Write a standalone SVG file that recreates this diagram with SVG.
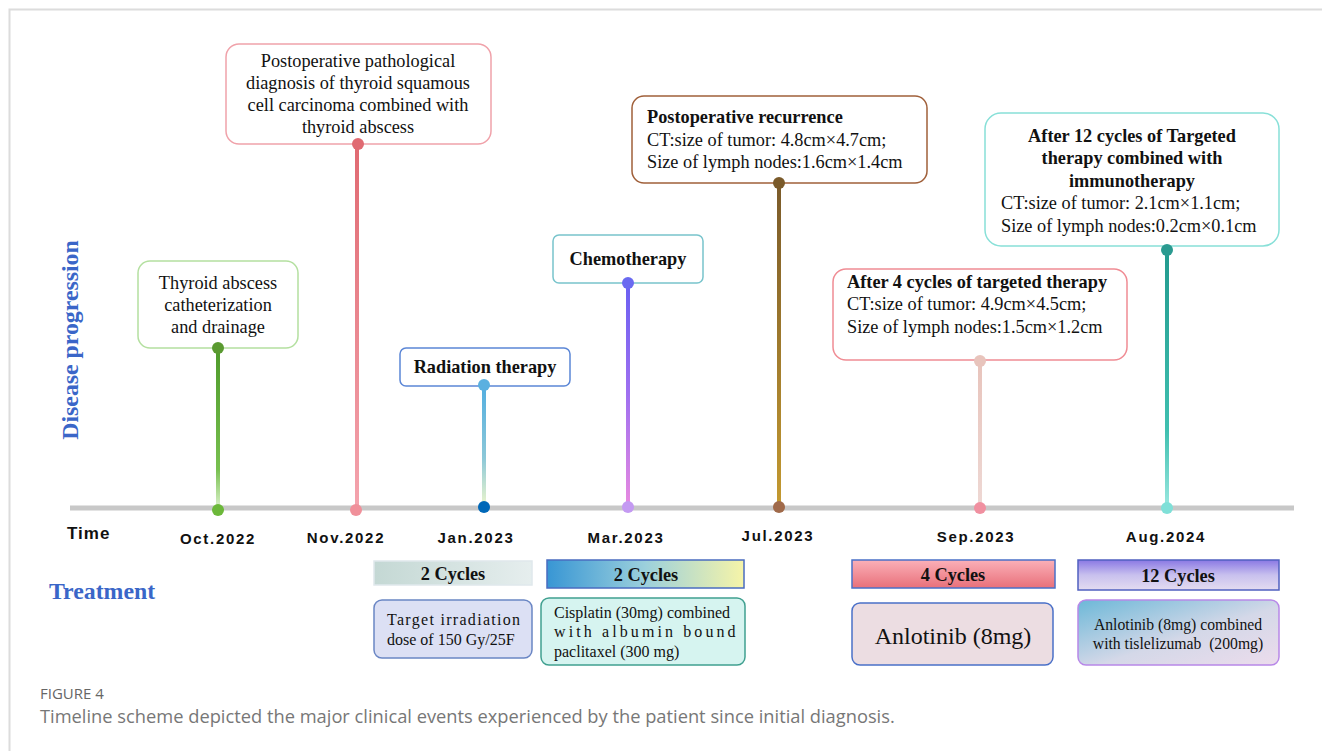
<svg xmlns="http://www.w3.org/2000/svg" width="1322" height="751" viewBox="0 0 1322 751">
<defs>
<style>
.sr{font-family:"Liberation Serif","Times New Roman",serif;fill:#111;}
.b{font-weight:bold;}
.ev{font-size:18.3px;}
.dt{font-family:"Liberation Sans",Arial,sans-serif;font-weight:bold;font-size:15px;letter-spacing:1.7px;fill:#111;text-anchor:middle;}
.ttl{font-family:"Liberation Serif","Times New Roman",serif;font-weight:bold;font-size:23.8px;fill:#3a66c8;}
.box{fill:#fff;stroke-width:1.5;}
.bar{stroke-width:1.5;}
.cy{font-size:18.3px;}
</style>
<linearGradient id="g1" x1="0" y1="0" x2="0" y2="1"><stop offset="0" stop-color="#4e9a2a"/><stop offset="0.75" stop-color="#78c050"/><stop offset="1" stop-color="#e0f4d0"/></linearGradient>
<linearGradient id="g2" x1="0" y1="0" x2="0" y2="1"><stop offset="0" stop-color="#e06a72"/><stop offset="1" stop-color="#f4a4ae"/></linearGradient>
<linearGradient id="g3" x1="0" y1="0" x2="0" y2="1"><stop offset="0" stop-color="#52aee0"/><stop offset="0.6" stop-color="#8cc8d8"/><stop offset="1" stop-color="#eef6cc"/></linearGradient>
<linearGradient id="g4" x1="0" y1="0" x2="0" y2="1"><stop offset="0" stop-color="#6a60f2"/><stop offset="0.5" stop-color="#a070f0"/><stop offset="1" stop-color="#e88ae0"/></linearGradient>
<linearGradient id="g5" x1="0" y1="0" x2="0" y2="1"><stop offset="0" stop-color="#7a5a2a"/><stop offset="1" stop-color="#c49a30"/></linearGradient>
<linearGradient id="g6" x1="0" y1="0" x2="0" y2="1"><stop offset="0" stop-color="#e8c4bc"/><stop offset="1" stop-color="#eed8d4"/></linearGradient>
<linearGradient id="g7" x1="0" y1="0" x2="0" y2="1"><stop offset="0" stop-color="#229a8e"/><stop offset="0.7" stop-color="#40c0b0"/><stop offset="1" stop-color="#9ae8e0"/></linearGradient>
<linearGradient id="b1" x1="0" y1="0" x2="1" y2="0"><stop offset="0" stop-color="#c4d8d4"/><stop offset="1" stop-color="#e6eeee"/></linearGradient>
<linearGradient id="b2" x1="0" y1="0" x2="1" y2="0"><stop offset="0" stop-color="#3896d4"/><stop offset="0.5" stop-color="#9cd0dc"/><stop offset="1" stop-color="#f6f4a8"/></linearGradient>
<linearGradient id="b3" x1="0" y1="0" x2="0" y2="1"><stop offset="0" stop-color="#fbb0b8"/><stop offset="1" stop-color="#e8707a"/></linearGradient>
<linearGradient id="b4" x1="0" y1="0" x2="0" y2="1"><stop offset="0" stop-color="#8a78e4"/><stop offset="0.5" stop-color="#c8c0ee"/><stop offset="1" stop-color="#e4dcf0"/></linearGradient>
<linearGradient id="t4" x1="0" y1="0" x2="1" y2="1"><stop offset="0" stop-color="#6cb8d8"/><stop offset="0.55" stop-color="#d4d8e8"/><stop offset="1" stop-color="#ecdcec"/></linearGradient>
</defs>
<rect width="1322" height="751" fill="#fff"/>
<path d="M9.5 751 V9.5 H1322" fill="none" stroke="#dcdcdc" stroke-width="2"/>

<text class="ttl" transform="translate(78,340) rotate(-90)" text-anchor="middle">Disease progression</text>
<text class="ttl" x="49" y="599">Treatment</text>

<g id="ev-oct2022">
<rect class="box" x="138" y="261" width="160" height="87" rx="12" stroke="#b4e0a0"/>
<text class="sr ev" text-anchor="middle"><tspan x="218" y="289">Thyroid abscess</tspan><tspan x="218" y="311">catheterization</tspan><tspan x="218" y="333">and drainage</tspan></text>
</g>
<g id="ev-nov2022">
<rect class="box" x="226" y="44" width="265" height="100" rx="13" stroke="#f0a2aa"/>
<text class="sr ev" text-anchor="middle"><tspan x="358" y="67">Postoperative pathological</tspan><tspan x="358" y="89">diagnosis of thyroid squamous</tspan><tspan x="358" y="111">cell carcinoma combined with</tspan><tspan x="358" y="133">thyroid abscess</tspan></text>
</g>
<g id="ev-jan2023">
<rect class="box" x="400" y="348" width="170" height="38" rx="6" stroke="#5b86d6"/>
<text class="sr ev b" x="485" y="373" text-anchor="middle">Radiation therapy</text>
</g>
<g id="ev-mar2023">
<rect class="box" x="553" y="235" width="150" height="48" rx="6" stroke="#78c4cc"/>
<text class="sr ev b" x="628" y="265" text-anchor="middle">Chemotherapy</text>
</g>
<g id="ev-jul2023">
<rect class="box" x="632" y="96" width="295" height="87" rx="12" stroke="#a0603a"/>
<text class="sr ev"><tspan class="b" x="647" y="123">Postoperative recurrence</tspan><tspan x="647" y="146">CT:size of tumor: 4.8cm×4.7cm;</tspan><tspan x="647" y="168">Size of lymph nodes:1.6cm×1.4cm</tspan></text>
</g>
<g id="ev-sep2023">
<rect class="box" x="833" y="269" width="294" height="91" rx="13" stroke="#f08c94"/>
<text class="sr ev"><tspan class="b" x="847" y="288">After 4 cycles of targeted therapy</tspan><tspan x="847" y="310">CT:size of tumor: 4.9cm×4.5cm;</tspan><tspan x="847" y="333">Size of lymph nodes:1.5cm×1.2cm</tspan></text>
</g>
<g id="ev-aug2024">
<rect class="box" x="985" y="113" width="294" height="133" rx="16" stroke="#88e0d8"/>
<text class="sr ev b" text-anchor="middle"><tspan x="1132" y="142">After 12 cycles of Targeted</tspan><tspan x="1132" y="164">therapy combined with</tspan><tspan x="1132" y="187">immunotherapy</tspan></text>
<text class="sr ev"><tspan x="1001" y="209">CT:size of tumor: 2.1cm×1.1cm;</tspan><tspan x="1001" y="232">Size of lymph nodes:0.2cm×0.1cm</tspan></text>
</g>

<g id="connectors">
<line x1="70" y1="508" x2="1294" y2="508" stroke="#c8c8c8" stroke-width="5"/>
<rect x="216" y="348" width="4" height="162" fill="url(#g1)"/>
<rect x="355" y="144" width="4" height="366" fill="url(#g2)"/>
<rect x="482" y="385" width="4" height="122" fill="url(#g3)"/>
<rect x="626" y="283" width="4" height="224" fill="url(#g4)"/>
<rect x="777" y="183" width="4" height="324" fill="url(#g5)"/>
<rect x="978" y="361" width="4" height="147" fill="url(#g6)"/>
<rect x="1165" y="250" width="4" height="258" fill="url(#g7)"/>
<circle cx="218" cy="348" r="6" fill="#5a9a30"/><circle cx="218" cy="510" r="6" fill="#6cb83a"/>
<circle cx="358" cy="144" r="6" fill="#e06a72"/><circle cx="356" cy="510" r="6" fill="#f0909a"/>
<circle cx="484" cy="385" r="6" fill="#5ab0e0"/><circle cx="484" cy="507" r="6" fill="#0068b8"/>
<circle cx="628" cy="283" r="6" fill="#6a6af0"/><circle cx="628" cy="507" r="6" fill="#c49af2"/>
<circle cx="779" cy="183" r="6" fill="#7a5a2a"/><circle cx="779" cy="507" r="6" fill="#a06a4a"/>
<circle cx="980" cy="361" r="6" fill="#e8c4bc"/><circle cx="980" cy="508" r="6" fill="#f090a0"/>
<circle cx="1167" cy="250" r="6" fill="#2a9a90"/><circle cx="1167" cy="508" r="6" fill="#80e0d8"/>
</g>

<g id="axis-labels">
<text x="67" y="539" font-family="Liberation Sans,Arial,sans-serif" font-weight="bold" font-size="17" letter-spacing="1" fill="#111">Time</text>
<text class="dt" x="218" y="544">Oct.2022</text>
<text class="dt" x="346" y="543">Nov.2022</text>
<text class="dt" x="476" y="543">Jan.2023</text>
<text class="dt" x="626" y="543">Mar.2023</text>
<text class="dt" x="778" y="541">Jul.2023</text>
<text class="dt" x="976" y="542">Sep.2023</text>
<text class="dt" x="1166" y="542">Aug.2024</text>
</g>

<g id="tr-radiation">
<rect class="bar" x="374" y="561" width="158" height="24" fill="url(#b1)" stroke="#dfe8ec"/>
<text class="sr b cy" x="453" y="580" text-anchor="middle">2 Cycles</text>
<rect x="374" y="600" width="158" height="58" rx="8" fill="#dce0f4" stroke="#6a86c4" stroke-width="1.5"/>
<text class="sr" font-size="16"><tspan x="387" y="625" letter-spacing="1.3">Target irradiation</tspan><tspan x="387" y="645">dose of 150 Gy/25F</tspan></text>
</g>
<g id="tr-chemo">
<rect class="bar" x="547" y="560" width="197" height="28" fill="url(#b2)" stroke="#4a6cc0"/>
<text class="sr b cy" x="646" y="581" text-anchor="middle">2 Cycles</text>
<rect x="541" y="598" width="204" height="67" rx="8" fill="#d6f4f0" stroke="#40a090" stroke-width="1.5"/>
<text class="sr" font-size="16"><tspan x="554" y="618">Cisplatin (30mg) combined</tspan><tspan x="554" y="637" letter-spacing="3.1">with albumin bound</tspan><tspan x="554" y="657">paclitaxel (300 mg)</tspan></text>
</g>
<g id="tr-anlotinib">
<rect class="bar" x="852" y="560" width="203" height="28" fill="url(#b3)" stroke="#4a70c8"/>
<text class="sr b cy" x="953" y="581" text-anchor="middle">4 Cycles</text>
<rect x="852" y="603" width="201" height="62" rx="8" fill="#ecdde2" stroke="#4a70c8" stroke-width="1.5"/>
<text class="sr" x="953" y="644" font-size="24" text-anchor="middle">Anlotinib (8mg)</text>
</g>
<g id="tr-combo">
<rect class="bar" x="1078" y="560" width="201" height="30" fill="url(#b4)" stroke="#5060c0"/>
<text class="sr b cy" x="1178" y="582" text-anchor="middle">12 Cycles</text>
<rect x="1078" y="600" width="201" height="65" rx="8" fill="url(#t4)" stroke="#b888e8" stroke-width="1.5"/>
<text class="sr" font-size="15.7" text-anchor="middle"><tspan x="1178" y="630">Anlotinib (8mg) combined</tspan><tspan x="1178" y="649" xml:space="preserve">with tislelizumab  (200mg)</tspan></text>
</g>

<g id="caption">
<text x="40" y="699" font-family="Open Sans,Noto Sans,sans-serif" font-size="15" fill="#666">FIGURE 4</text>
<text x="40" y="723" font-family="Open Sans,Noto Sans,sans-serif" font-size="18.3" fill="#777">Timeline scheme depicted the major clinical events experienced by the patient since initial diagnosis.</text>
</g>
</svg>
